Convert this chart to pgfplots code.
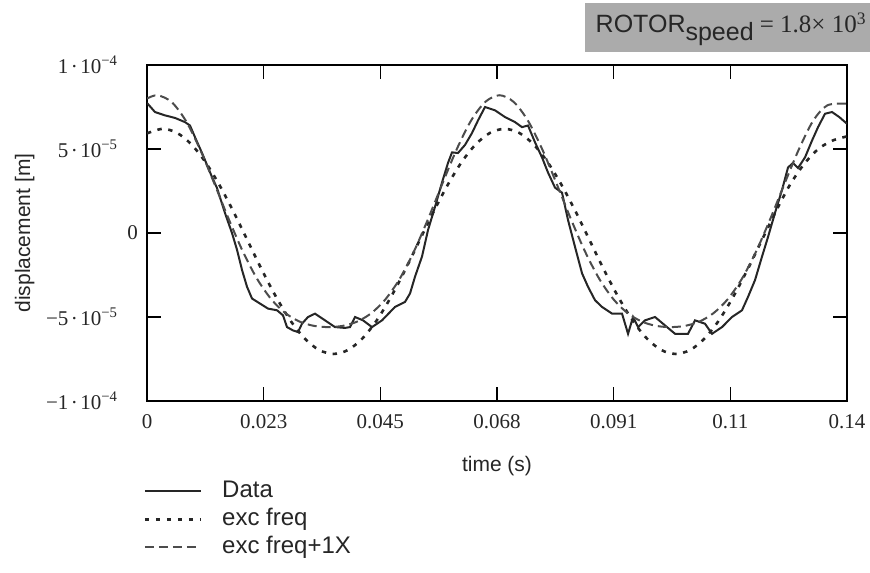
\documentclass[border=0pt]{standalone}
\usepackage{pgfplots}
\pgfplotsset{compat=1.18}
\usepackage{fontspec}
\setmainfont{Liberation Serif}
\setsansfont{Liberation Sans}
\definecolor{lc}{HTML}{262626}
\definecolor{boxgray}{HTML}{ABABAB}
\newcommand{\md}{\kern1.2pt·\kern1.2pt}
\begin{document}
\begin{tikzpicture}[x=1pt,y=1pt]
\useasboundingbox (0,0) rectangle (435,286);
% rotor speed box
\fill[boxgray] (292.5,260) rectangle (435,284.5);
\node[anchor=east, text=lc, inner sep=0pt] at (433.5,271.5) {\fontsize{12.5}{14}\selectfont\sffamily ROTOR\raisebox{-0.3em}{speed}\rmfamily\ = 1.8× 10\textsuperscript{3}};
\begin{axis}[
  at={(73.5pt,85.5pt)}, anchor=south west,
  width=350pt, height=168pt, scale only axis,
  xmin=0, xmax=0.136, ymin=-10, ymax=10,
  axis line style={black, line width=0.8pt},
  xtick={0,0.022667,0.045333,0.068,0.090667,0.113333,0.136},
  xticklabels={0,0.023,0.045,0.068,0.091,0.11,0.14},
  ytick={-10,-5,0,5,10},
  yticklabels={−1\md10\textsuperscript{−4}\hspace*{10pt},−5\md10\textsuperscript{−5}\hspace*{10pt},0,5\md10\textsuperscript{−5}\hspace*{10pt},1\md10\textsuperscript{−4}\hspace*{10pt}},
  tick align=inside, major tick length=7pt,
  tick style={black, line width=0.7pt},
  ticklabel style={font=\fontsize{10.5}{12}\selectfont, text=lc},
  xticklabel style={yshift=-3pt},
  yticklabel style={xshift=-1pt},
  scaled ticks=false,
  xlabel={time (s)}, ylabel={displacement [m]},
  label style={font=\sffamily\fontsize{10.5}{12}\selectfont, text=lc},
  xlabel style={yshift=-7pt},
  ylabel style={yshift=-1pt},
  legend style={at={(-0.014,-0.22)}, anchor=north west, draw=none, fill=none,
    font=\sffamily\fontsize{12}{14}\selectfont, text=lc,
    nodes={inner sep=0pt, text height=9pt, text depth=3pt},
    row sep=2pt, column sep=10pt},
  legend cell align=left,
  legend image code/.code={\draw[#1] (0pt,0pt) -- (28pt,0pt);},
]
\addplot[lc, line width=1pt] coordinates {
(0,7.74)(0.00155,7.2)(0.0035,7.0)(0.00544,6.85)(0.00738,6.6)(0.00835,6.4)(0.00933,5.7)(0.01069,4.76)(0.01166,4.05)(0.01263,3.33)(0.0136,2.68)(0.01515,1.19)(0.01651,0)(0.01749,-1.0)(0.01846,-2.2)(0.01943,-3.2)(0.0204,-3.9)(0.02195,-4.2)(0.02351,-4.5)(0.02526,-4.6)(0.02642,-4.9)(0.0272,-5.6)(0.02837,-5.8)(0.02934,-5.9)(0.03011,-5.4)(0.03128,-5.0)(0.03264,-4.8)(0.03458,-5.2)(0.03653,-5.6)(0.03847,-5.65)(0.03944,-5.6)(0.04041,-5.0)(0.04197,-5.2)(0.04371,-5.6)(0.04566,-5.2)(0.04818,-4.4)(0.05013,-4.1)(0.0511,-3.6)(0.05207,-2.6)(0.05343,-1.4)(0.0546,0.18)(0.05595,1.55)(0.05731,3.0)(0.05848,4.17)(0.05926,4.8)(0.06042,4.76)(0.06178,5.24)(0.06314,5.95)(0.06431,6.7)(0.06567,7.5)(0.06761,7.3)(0.06956,6.9)(0.0715,6.6)(0.07286,6.3)(0.07402,6.4)(0.07538,5.4)(0.07674,4.5)(0.07791,3.6)(0.07927,2.7)(0.08063,2.4)(0.0818,0.77)(0.08316,-0.83)(0.08452,-2.4)(0.08568,-3.2)(0.08704,-4.0)(0.0884,-4.4)(0.09035,-4.8)(0.09229,-4.8)(0.09346,-6.0)(0.09443,-5.0)(0.0954,-5.6)(0.09676,-5.2)(0.0987,-5.0)(0.10064,-5.5)(0.10259,-6.0)(0.10511,-6.0)(0.10647,-5.2)(0.10841,-5.4)(0.10977,-6.0)(0.11172,-5.6)(0.11366,-5.0)(0.1156,-4.6)(0.11677,-3.8)(0.11813,-2.8)(0.11949,-1.4)(0.12065,-0.24)(0.12201,1.2)(0.12337,2.56)(0.12454,3.9)(0.12551,4.17)(0.12648,3.87)(0.12784,4.5)(0.1292,5.5)(0.13037,6.3)(0.13173,7.1)(0.13309,7.2)(0.1345,6.9)(0.136,6.5)
};
\addlegendentry{Data}
\addplot[lc, line width=1.3pt, dash pattern=on 2.2pt off 3.3pt, smooth] coordinates {
(0,5.93)(0.003,6.20)(0.00577,5.97)(0.00854,5.30)(0.01131,4.24)(0.01408,2.85)(0.01685,1.24)(0.01962,-0.50)(0.02239,-2.24)(0.02516,-3.85)(0.02793,-5.24)(0.0307,-6.30)(0.03347,-6.97)(0.03624,-7.20)(0.03901,-6.97)(0.04178,-6.30)(0.04455,-5.24)(0.04732,-3.85)(0.05009,-2.24)(0.05286,-0.50)(0.05563,1.24)(0.0584,2.85)(0.06117,4.24)(0.06394,5.30)(0.06671,5.97)(0.06948,6.20)(0.07225,5.97)(0.07502,5.30)(0.07779,4.24)(0.08056,2.85)(0.08333,1.24)(0.0861,-0.50)(0.08887,-2.24)(0.09164,-3.85)(0.09441,-5.24)(0.09718,-6.30)(0.09995,-6.97)(0.10272,-7.20)(0.10549,-6.97)(0.10826,-6.30)(0.11103,-5.24)(0.1138,-3.85)(0.11657,-2.24)(0.11934,-0.50)(0.12211,1.24)(0.12488,2.85)(0.12765,4.1)(0.13042,5.0)(0.13319,5.5)(0.136,5.75)
};
\addlegendentry{exc freq}
\addplot[black!70, line width=1pt, dash pattern=on 4.5pt off 2.5pt, smooth] coordinates {
(0,8.0)(0.002,8.2)(0.00477,7.80)(0.00754,6.68)(0.01031,4.98)(0.01308,2.95)(0.01585,0.85)(0.01862,-1.10)(0.02139,-2.73)(0.02416,-3.95)(0.02693,-4.78)(0.0297,-5.28)(0.03247,-5.53)(0.03524,-5.6)(0.03801,-5.53)(0.04078,-5.28)(0.04355,-4.78)(0.04632,-3.95)(0.04909,-2.73)(0.05186,-1.10)(0.05463,0.85)(0.0574,2.95)(0.06017,4.98)(0.06294,6.68)(0.06571,7.80)(0.06848,8.2)(0.07125,7.80)(0.07402,6.68)(0.07679,4.98)(0.07956,2.95)(0.08233,0.85)(0.0851,-1.10)(0.08787,-2.73)(0.09064,-3.95)(0.09341,-4.78)(0.09618,-5.28)(0.09895,-5.53)(0.10172,-5.6)(0.10449,-5.53)(0.10726,-5.28)(0.11003,-4.78)(0.1128,-3.95)(0.11557,-2.73)(0.11834,-1.10)(0.12111,0.85)(0.12388,2.95)(0.12665,4.98)(0.12942,6.68)(0.13219,7.6)(0.136,7.7)
};
\addlegendentry{exc freq+1X}
\end{axis}
\end{tikzpicture}
\end{document}
